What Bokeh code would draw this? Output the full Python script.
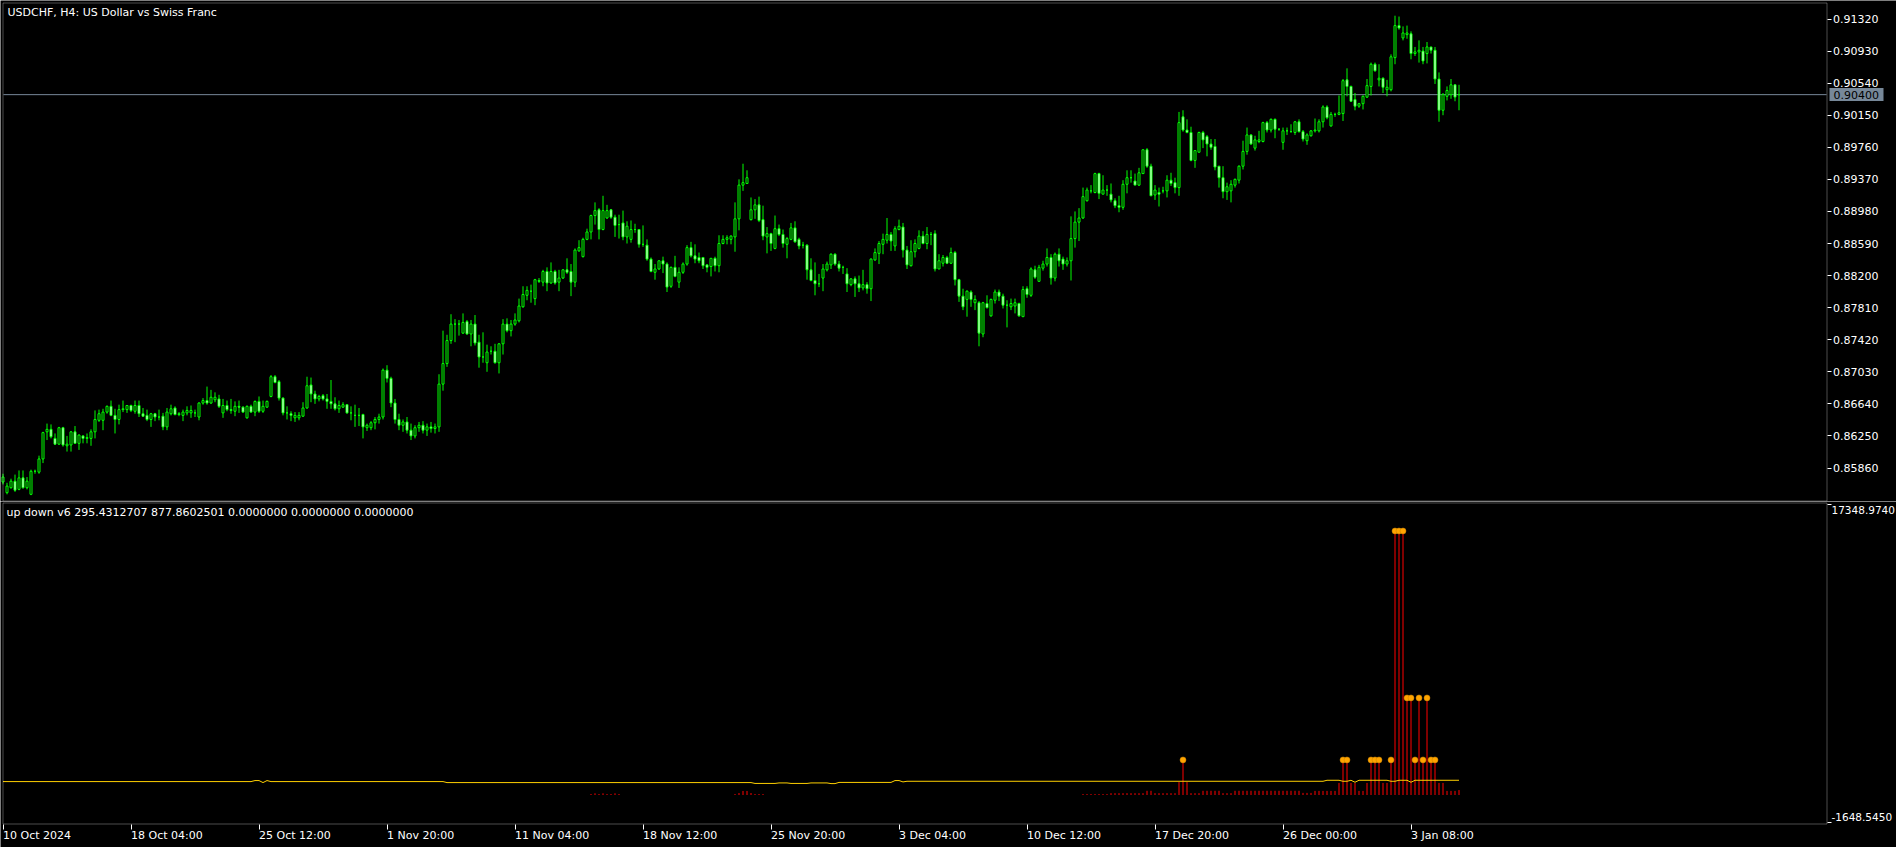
from bokeh.plotting import figure
from bokeh.models import (Range1d, FixedTicker, Label, PrintfTickFormatter, ColumnDataSource,
                          LinearAxis, BoxAnnotation)
from bokeh.layouts import column
from bokeh.embed import file_html
from bokeh.resources import INLINE
import numpy as np

# ---------------- data ----------------
open_ = [0.8569,0.8556,0.8562,0.8570,0.8560,0.8574,0.8562,0.8554,0.8582,0.8581,
0.8597,0.8630,0.8633,0.8622,0.8615,0.8635,0.8613,0.8614,0.8630,0.8616,
0.8625,0.8622,0.8622,0.8630,0.8644,0.8644,0.8654,0.8661,0.8650,0.8645,
0.8657,0.8657,0.8662,0.8655,0.8662,0.8652,0.8650,0.8645,0.8652,0.8648,
0.8649,0.8636,0.8652,0.8659,0.8651,0.8650,0.8653,0.8653,0.8653,0.8648,
0.8665,0.8668,0.8665,0.8669,0.8670,0.8653,0.8662,0.8657,0.8655,0.8661,
0.8660,0.8647,0.8661,0.8654,0.8667,0.8655,0.8660,0.8673,0.8697,0.8691,
0.8671,0.8653,0.8652,0.8647,0.8647,0.8649,0.8659,0.8687,0.8676,0.8670,
0.8674,0.8670,0.8667,0.8664,0.8658,0.8660,0.8663,0.8653,0.8650,0.8650,
0.8651,0.8635,0.8635,0.8641,0.8645,0.8648,0.8705,0.8695,0.8665,0.8645,
0.8638,0.8642,0.8632,0.8625,0.8635,0.8638,0.8632,0.8636,0.8634,0.8636,
0.8688,0.8713,0.8741,0.8761,0.8761,0.8750,0.8764,0.8749,0.8761,0.8739,
0.8721,0.8714,0.8728,0.8728,0.8714,0.8737,0.8761,0.8753,0.8761,0.8765,
0.8782,0.8796,0.8801,0.8792,0.8814,0.8812,0.8825,0.8811,0.8825,0.8812,
0.8817,0.8827,0.8825,0.8812,0.8850,0.8843,0.8864,0.8873,0.8893,0.8900,
0.8876,0.8890,0.8900,0.8891,0.8882,0.8884,0.8867,0.8864,0.8876,0.8876,
0.8858,0.8857,0.8840,0.8824,0.8828,0.8838,0.8834,0.8807,0.8830,0.8812,
0.8824,0.8834,0.8854,0.8844,0.8842,0.8842,0.8833,0.8831,0.8841,0.8832,
0.8859,0.8864,0.8864,0.8867,0.8889,0.8930,0.8932,0.8888,0.8900,0.8906,
0.8888,0.8867,0.8871,0.8853,0.8877,0.8870,0.8858,0.8864,0.8878,0.8864,
0.8857,0.8857,0.8827,0.8814,0.8810,0.8817,0.8827,0.8833,0.8846,0.8834,
0.8830,0.8822,0.8809,0.8816,0.8810,0.8805,0.8809,0.8804,0.8839,0.8847,
0.8858,0.8863,0.8870,0.8856,0.8876,0.8879,0.8851,0.8832,0.8849,0.8853,
0.8868,0.8859,0.8870,0.8871,0.8828,0.8835,0.8842,0.8835,0.8848,0.8815,
0.8795,0.8791,0.8800,0.8787,0.8787,0.8749,0.8786,0.8771,0.8790,0.8800,
0.8795,0.8784,0.8782,0.8783,0.8786,0.8770,0.8804,0.8796,0.8827,0.8813,
0.8829,0.8834,0.8842,0.8817,0.8846,0.8840,0.8834,0.8838,0.8865,0.8885,
0.8890,0.8911,0.8923,0.8921,0.8944,0.8919,0.8924,0.8919,0.8911,0.8905,
0.8903,0.8931,0.8939,0.8935,0.8930,0.8944,0.8973,0.8953,0.8918,0.8921,
0.8923,0.8923,0.8936,0.8933,0.8927,0.9013,0.8997,0.8994,0.8960,0.8970,
0.8994,0.8989,0.8980,0.8977,0.8953,0.8939,0.8922,0.8923,0.8930,0.8936,
0.8953,0.8971,0.8991,0.8975,0.8983,0.8983,0.9006,0.8997,0.9010,0.8998,
0.8982,0.8996,0.8995,0.8994,0.9007,0.8995,0.8984,0.8990,0.8996,0.8996,
0.9007,0.9025,0.9002,0.9016,0.9016,0.9017,0.9058,0.9050,0.9034,0.9026,
0.9029,0.9037,0.9050,0.9077,0.9058,0.9060,0.9046,0.9046,0.9085,0.9124,
0.9109,0.9113,0.9114,0.9090,0.9092,0.9093,0.9090,0.9098,0.9094,0.9059,
0.9021,0.9038,0.9040,0.9052,0.9040]
high = [0.8579,0.8568,0.8573,0.8578,0.8583,0.8583,0.8575,0.8584,0.8584,0.8601,
0.8630,0.8640,0.8639,0.8628,0.8636,0.8636,0.8625,0.8631,0.8637,0.8627,
0.8626,0.8628,0.8633,0.8656,0.8657,0.8658,0.8662,0.8668,0.8658,0.8663,
0.8668,0.8662,0.8663,0.8668,0.8668,0.8659,0.8657,0.8653,0.8653,0.8657,
0.8653,0.8659,0.8663,0.8661,0.8654,0.8657,0.8661,0.8662,0.8657,0.8666,
0.8671,0.8685,0.8681,0.8678,0.8675,0.8670,0.8668,0.8670,0.8667,0.8668,
0.8661,0.8662,0.8663,0.8668,0.8673,0.8668,0.8668,0.8699,0.8699,0.8693,
0.8672,0.8661,0.8655,0.8654,0.8654,0.8666,0.8697,0.8696,0.8680,0.8675,
0.8676,0.8676,0.8693,0.8672,0.8668,0.8666,0.8663,0.8661,0.8663,0.8659,
0.8652,0.8640,0.8643,0.8648,0.8652,0.8707,0.8711,0.8697,0.8670,0.8652,
0.8645,0.8648,0.8640,0.8638,0.8642,0.8643,0.8640,0.8642,0.8640,0.8700,
0.8753,0.8748,0.8773,0.8767,0.8766,0.8774,0.8766,0.8766,0.8772,0.8748,
0.8751,0.8736,0.8734,0.8737,0.8738,0.8767,0.8768,0.8766,0.8774,0.8792,
0.8807,0.8807,0.8809,0.8816,0.8817,0.8827,0.8830,0.8836,0.8827,0.8827,
0.8828,0.8841,0.8834,0.8853,0.8863,0.8866,0.8877,0.8894,0.8909,0.8902,
0.8917,0.8906,0.8901,0.8894,0.8894,0.8899,0.8886,0.8887,0.8883,0.8876,
0.8881,0.8864,0.8842,0.8834,0.8838,0.8843,0.8836,0.8831,0.8844,0.8830,
0.8836,0.8857,0.8861,0.8858,0.8848,0.8842,0.8834,0.8841,0.8843,0.8869,
0.8869,0.8869,0.8869,0.8909,0.8937,0.8956,0.8948,0.8915,0.8913,0.8916,
0.8905,0.8879,0.8872,0.8893,0.8882,0.8876,0.8867,0.8884,0.8886,0.8866,
0.8861,0.8858,0.8841,0.8836,0.8822,0.8834,0.8837,0.8847,0.8847,0.8838,
0.8832,0.8829,0.8817,0.8819,0.8820,0.8827,0.8812,0.8841,0.8853,0.8862,
0.8871,0.8890,0.8873,0.8880,0.8888,0.8884,0.8856,0.8863,0.8864,0.8875,
0.8874,0.8879,0.8873,0.8875,0.8846,0.8845,0.8844,0.8854,0.8850,0.8816,
0.8804,0.8802,0.8802,0.8796,0.8789,0.8788,0.8796,0.8792,0.8803,0.8803,
0.8798,0.8790,0.8792,0.8792,0.8787,0.8807,0.8807,0.8830,0.8832,0.8833,
0.8838,0.8853,0.8846,0.8848,0.8853,0.8843,0.8842,0.8892,0.8898,0.8902,
0.8927,0.8927,0.8930,0.8945,0.8945,0.8942,0.8930,0.8932,0.8914,0.8917,
0.8936,0.8948,0.8948,0.8944,0.8951,0.8973,0.8975,0.8956,0.8930,0.8927,
0.8928,0.8942,0.8945,0.8939,0.9019,0.9021,0.9010,0.9001,0.8972,0.8995,
0.8996,0.8991,0.8986,0.8986,0.8953,0.8953,0.8933,0.8936,0.8938,0.8954,
0.8984,0.9000,0.8992,0.8990,0.8996,0.9007,0.9008,0.9011,0.9011,0.8999,
0.9000,0.9000,0.9004,0.9008,0.9010,0.8997,0.8993,0.8997,0.9011,0.9010,
0.9027,0.9027,0.9019,0.9018,0.9039,0.9059,0.9072,0.9051,0.9042,0.9030,
0.9039,0.9059,0.9079,0.9079,0.9077,0.9061,0.9058,0.9089,0.9136,0.9135,
0.9123,0.9124,0.9117,0.9098,0.9106,0.9098,0.9104,0.9098,0.9098,0.9067,
0.9042,0.9050,0.9059,0.9052,0.9052]
low = [0.8566,0.8554,0.8561,0.8557,0.8559,0.8561,0.8560,0.8553,0.8579,0.8579,
0.8592,0.8620,0.8622,0.8614,0.8614,0.8612,0.8606,0.8606,0.8616,0.8608,
0.8616,0.8616,0.8613,0.8622,0.8642,0.8632,0.8652,0.8649,0.8628,0.8639,
0.8654,0.8653,0.8654,0.8652,0.8648,0.8648,0.8643,0.8636,0.8643,0.8644,
0.8632,0.8632,0.8650,0.8650,0.8649,0.8643,0.8650,0.8647,0.8648,0.8644,
0.8663,0.8663,0.8664,0.8666,0.8659,0.8647,0.8655,0.8652,0.8649,0.8653,
0.8653,0.8646,0.8653,0.8649,0.8653,0.8653,0.8659,0.8672,0.8689,0.8668,
0.8650,0.8645,0.8643,0.8642,0.8644,0.8648,0.8658,0.8666,0.8664,0.8667,
0.8668,0.8658,0.8658,0.8656,0.8653,0.8659,0.8652,0.8644,0.8636,0.8637,
0.8622,0.8631,0.8632,0.8633,0.8640,0.8645,0.8690,0.8660,0.8640,0.8632,
0.8630,0.8628,0.8620,0.8622,0.8630,0.8628,0.8625,0.8629,0.8628,0.8630,
0.8680,0.8709,0.8737,0.8739,0.8747,0.8749,0.8748,0.8734,0.8735,0.8708,
0.8714,0.8703,0.8724,0.8713,0.8701,0.8724,0.8751,0.8746,0.8759,0.8763,
0.8781,0.8790,0.8787,0.8784,0.8811,0.8807,0.8801,0.8810,0.8809,0.8801,
0.8816,0.8822,0.8795,0.8806,0.8849,0.8842,0.8863,0.8864,0.8882,0.8864,
0.8875,0.8889,0.8889,0.8867,0.8865,0.8863,0.8859,0.8860,0.8872,0.8854,
0.8855,0.8838,0.8824,0.8815,0.8827,0.8823,0.8800,0.8805,0.8818,0.8805,
0.8822,0.8832,0.8842,0.8835,0.8835,0.8828,0.8824,0.8819,0.8825,0.8824,
0.8858,0.8858,0.8858,0.8849,0.8875,0.8923,0.8932,0.8887,0.8889,0.8885,
0.8863,0.8847,0.8850,0.8852,0.8868,0.8854,0.8841,0.8863,0.8860,0.8852,
0.8853,0.8815,0.8813,0.8796,0.8806,0.8801,0.8825,0.8828,0.8832,0.8825,
0.8822,0.8800,0.8807,0.8794,0.8800,0.8802,0.8798,0.8789,0.8838,0.8834,
0.8846,0.8859,0.8850,0.8850,0.8875,0.8842,0.8828,0.8831,0.8842,0.8852,
0.8858,0.8852,0.8857,0.8825,0.8828,0.8831,0.8834,0.8834,0.8808,0.8788,
0.8778,0.8770,0.8782,0.8778,0.8734,0.8745,0.8780,0.8770,0.8786,0.8789,
0.8780,0.8757,0.8778,0.8774,0.8770,0.8770,0.8793,0.8794,0.8816,0.8813,
0.8826,0.8831,0.8809,0.8813,0.8831,0.8827,0.8831,0.8814,0.8854,0.8862,
0.8889,0.8910,0.8920,0.8920,0.8913,0.8919,0.8917,0.8909,0.8902,0.8897,
0.8900,0.8920,0.8933,0.8930,0.8929,0.8944,0.8951,0.8917,0.8912,0.8904,
0.8920,0.8915,0.8929,0.8920,0.8917,0.8995,0.8993,0.8959,0.8951,0.8970,
0.8975,0.8965,0.8973,0.8948,0.8927,0.8914,0.8912,0.8909,0.8927,0.8932,
0.8949,0.8967,0.8979,0.8972,0.8981,0.8982,0.8994,0.8994,0.8987,0.8996,
0.8973,0.8991,0.8994,0.8991,0.8994,0.8983,0.8979,0.8989,0.8994,0.8994,
0.9000,0.9010,0.9001,0.9013,0.9015,0.9008,0.9038,0.9031,0.9021,0.9024,
0.9022,0.9036,0.9039,0.9068,0.9050,0.9042,0.9038,0.9044,0.9077,0.9119,
0.9106,0.9108,0.9083,0.9087,0.9079,0.9077,0.9078,0.9090,0.9053,0.9007,
0.9015,0.9033,0.9035,0.9032,0.9021]
close = [0.8575,0.8564,0.8570,0.8559,0.8574,0.8562,0.8570,0.8582,0.8582,0.8597,
0.8629,0.8633,0.8624,0.8615,0.8635,0.8614,0.8615,0.8630,0.8616,0.8626,
0.8622,0.8623,0.8630,0.8645,0.8652,0.8654,0.8661,0.8650,0.8645,0.8657,
0.8658,0.8662,0.8656,0.8662,0.8652,0.8649,0.8645,0.8652,0.8648,0.8648,
0.8636,0.8654,0.8658,0.8651,0.8652,0.8654,0.8656,0.8656,0.8653,0.8665,
0.8668,0.8665,0.8672,0.8672,0.8661,0.8662,0.8657,0.8656,0.8661,0.8660,
0.8654,0.8661,0.8654,0.8667,0.8655,0.8661,0.8667,0.8697,0.8690,0.8671,
0.8653,0.8653,0.8650,0.8650,0.8650,0.8659,0.8686,0.8676,0.8670,0.8673,
0.8670,0.8667,0.8664,0.8658,0.8662,0.8663,0.8653,0.8653,0.8650,0.8650,
0.8636,0.8638,0.8641,0.8645,0.8648,0.8705,0.8695,0.8665,0.8645,0.8638,
0.8642,0.8632,0.8625,0.8635,0.8638,0.8632,0.8636,0.8634,0.8636,0.8688,
0.8713,0.8741,0.8761,0.8761,0.8761,0.8763,0.8749,0.8761,0.8738,0.8721,
0.8721,0.8727,0.8728,0.8714,0.8737,0.8761,0.8753,0.8761,0.8766,0.8783,
0.8797,0.8802,0.8801,0.8815,0.8813,0.8825,0.8811,0.8825,0.8811,0.8817,
0.8827,0.8824,0.8812,0.8851,0.8854,0.8864,0.8873,0.8893,0.8899,0.8876,
0.8899,0.8899,0.8891,0.8881,0.8882,0.8867,0.8880,0.8876,0.8876,0.8858,
0.8858,0.8840,0.8825,0.8828,0.8838,0.8834,0.8806,0.8830,0.8819,0.8824,
0.8834,0.8854,0.8844,0.8840,0.8838,0.8832,0.8830,0.8841,0.8832,0.8859,
0.8864,0.8866,0.8868,0.8889,0.8930,0.8933,0.8939,0.8900,0.8906,0.8887,
0.8868,0.8871,0.8859,0.8877,0.8870,0.8859,0.8865,0.8878,0.8861,0.8856,
0.8857,0.8827,0.8814,0.8810,0.8810,0.8828,0.8834,0.8846,0.8834,0.8829,
0.8830,0.8810,0.8816,0.8810,0.8805,0.8809,0.8804,0.8840,0.8848,0.8859,
0.8864,0.8870,0.8862,0.8877,0.8880,0.8851,0.8833,0.8849,0.8859,0.8868,
0.8859,0.8870,0.8870,0.8828,0.8838,0.8842,0.8835,0.8848,0.8815,0.8795,
0.8782,0.8801,0.8791,0.8791,0.8750,0.8787,0.8781,0.8791,0.8800,0.8795,
0.8784,0.8784,0.8786,0.8787,0.8771,0.8803,0.8797,0.8828,0.8818,0.8830,
0.8834,0.8842,0.8817,0.8846,0.8838,0.8834,0.8838,0.8865,0.8885,0.8890,
0.8916,0.8924,0.8923,0.8944,0.8920,0.8924,0.8924,0.8912,0.8905,0.8903,
0.8931,0.8939,0.8939,0.8930,0.8945,0.8973,0.8953,0.8917,0.8924,0.8919,
0.8923,0.8936,0.8932,0.8927,0.9006,0.8997,0.8994,0.8960,0.8972,0.8994,
0.8985,0.8980,0.8976,0.8952,0.8939,0.8922,0.8928,0.8931,0.8937,0.8953,
0.8971,0.8991,0.8980,0.8985,0.8985,0.9006,0.8997,0.9010,0.8998,0.8998,
0.8996,0.8996,0.8995,0.9007,0.8995,0.8986,0.8991,0.8996,0.8997,0.9007,
0.9025,0.9012,0.9016,0.9016,0.9018,0.9057,0.9050,0.9032,0.9026,0.9029,
0.9038,0.9051,0.9077,0.9069,0.9060,0.9049,0.9049,0.9086,0.9124,0.9121,
0.9115,0.9115,0.9090,0.9092,0.9094,0.9081,0.9098,0.9094,0.9059,0.9021,
0.9040,0.9045,0.9052,0.9037,0.9040]

price_ticks = [0.91320, 0.90930, 0.90540, 0.90150, 0.89760, 0.89370, 0.88980, 0.88590,
               0.88200, 0.87810, 0.87420, 0.87030, 0.86640, 0.86250, 0.85860]
time_tick_bars = [0, 32, 64, 96, 128, 160, 192, 224, 256, 288, 320, 352]
time_tick_labels = ["10 Oct 2024", "18 Oct 04:00", "25 Oct 12:00", "1 Nov 20:00", "11 Nov 04:00",
                    "18 Nov 12:00", "25 Nov 20:00", "3 Dec 04:00", "10 Dec 12:00", "17 Dec 20:00",
                    "26 Dec 00:00", "3 Jan 08:00"]
current_price = 0.90400
symbol_title = "USDCHF, H4:  US Dollar vs Swiss Franc"
indicator_title = "up down v6 295.4312707 877.8602501 0.0000000 0.0000000 0.0000000"
ind_max = 17348.9740
ind_min = -1648.5450

# red histogram: bar indices and values
hist_bars = [147, 148, 149, 150, 151, 152, 153, 154,
             183, 184, 185, 186, 187, 188, 189, 190] + list(range(270, 365))
hist_vals = [60, 100, 60, 100, 60, 60, 100, 60,
             60, 120, 240, 240, 120, 60, 60, 60,
             # 270 - 324
             60, 60, 60, 60, 60, 60, 60,
             110, 110, 110, 110, 110, 110, 110, 110, 110,
             250, 250,
             110, 110, 110, 110, 110, 110,
             770, 2091, 770,
             110, 110, 110,
             250, 250, 250, 250, 250,
             110, 110, 110,
             250, 250, 250, 250, 250, 250, 250, 250, 250, 250, 250, 250, 250, 250, 250, 250, 250,
             # 325 - 364
             125, 125, 125, 244, 244, 244, 244, 244, 244, 720,
             2091, 2091, 720, 720, 244, 244, 720, 2091, 2091, 2091,
             720, 720, 2091, 15740, 15740, 15740, 5787, 5787, 2091, 5787,
             2091, 5787, 2091, 2091, 720, 720, 244, 244, 244, 295]
# orange dots
dot_bars = [295, 335, 336, 342, 343, 344, 347, 348, 349, 350, 351, 352, 353, 354, 355, 356, 357, 358]
dot_vals = [2091, 2091, 2091, 2091, 2091, 2091, 2091, 15740, 15740, 15740, 5787, 5787, 2091, 5787,
            2091, 5787, 2091, 2091]
# yellow line, run-length: counts of consecutive bars and their level
yellow_counts = [63, 2, 1, 1, 44, 77, 6, 3, 5, 5, 2, 14, 2, 1, 105, 4, 2, 1, 1, 8, 2, 3, 1, 12]
yellow_levels = [800, 860, 740, 860, 800, 740, 690, 720, 690, 720, 680, 750, 860, 780, 818,
                 878, 818, 878, 760, 878, 818, 878, 760, 878]

# ---------------- layout constants (page pixels) ----------------
FONT = "DejaVu Sans"
FS = "11px"
W = 1896
MAIN_H = 501
IND_H = 346
PX_PER_BAR = 4.0
X0 = -2.5 / PX_PER_BAR           # bar 0 centred at page x 2.5
X1 = X0 + W / PX_PER_BAR
AXIS_X = 1826.5                  # right scale line
BORDER_L = 2.5

def x_at(px):
    return X0 + px / PX_PER_BAR

# main panel price scale
TICK_HI_Y, TICK_LO_Y = 18.5, 467.5
ppu = (TICK_LO_Y - TICK_HI_Y) / (price_ticks[0] - price_ticks[-1])

def price_at(py):
    return price_ticks[0] - (py - TICK_HI_Y) / ppu

# indicator scale (page y measured from top of page)
Y_MAX_PX, Y_ZERO_PX = 503.5, 794.5
ipu = (Y_ZERO_PX - Y_MAX_PX) / ind_max

def ind_at(py):
    return ind_max - (py - Y_MAX_PX) / ipu

BG = "black"
FG = "white"
LIME = "#00FF00"
SLATE = "#778899"

def style_axis(a, tick_out):
    a.axis_line_color = None
    a.major_tick_line_color = FG
    a.major_tick_out = tick_out
    a.major_tick_in = 0
    a.minor_tick_line_color = None
    a.major_label_text_color = FG
    a.major_label_text_font = FONT
    a.major_label_text_font_size = FS

# ---------------- main chart ----------------
n = len(close)
bars = list(range(n))
top = [max(o, c) for o, c in zip(open_, close)]
bot = [min(o, c) for o, c in zip(open_, close)]
fill = ["white" if c < o else "black" for o, c in zip(open_, close)]
src = ColumnDataSource(dict(x=bars, o=open_, h=high, l=low, c=close, top=top, bot=bot, fill=fill))

p1 = figure(width=W, height=MAIN_H, min_border=0, x_range=Range1d(X0, X1),
            y_range=Range1d(price_at(MAIN_H), price_at(0)), x_axis_location=None,
            y_axis_location=None, output_backend="svg", toolbar_location=None,
            background_fill_color=BG, border_fill_color=BG, outline_line_color=None)
p1.grid.visible = False
pax = LinearAxis(fixed_location=x_at(AXIS_X), ticker=FixedTicker(ticks=price_ticks),
                 formatter=PrintfTickFormatter(format="%.5f"))
style_axis(pax, 4)
pax.major_label_standoff = 2
p1.add_layout(pax, "right")

p1.add_layout(BoxAnnotation(left=x_at(BORDER_L), right=x_at(AXIS_X), top=price_at(2.5),
                            bottom=price_at(500.5), fill_color=None, line_color=FG, line_width=1,
                            level="overlay"))
# bid line across the chart area only
p1.segment(x0=[x_at(3)], y0=[current_price], x1=[x_at(1826)], y1=[current_price],
           line_color=SLATE, line_width=1)
p1.segment(x0="x", y0="l", x1="x", y1="h", source=src, line_color=LIME, line_width=1)
p1.vbar(x="x", width=0.5, top="top", bottom="bot", source=src, fill_color="fill",
        line_color=LIME, line_width=1)

p1.add_layout(Label(x=x_at(7), y=price_at(11.5), text=symbol_title, text_align="left",
                    text_baseline="middle", text_color=FG, text_font=FONT, text_font_size=FS))
# price tag on the scale
p1.add_layout(BoxAnnotation(left=x_at(1829), right=x_at(1883), top=price_at(87.5),
                            bottom=price_at(100.5), fill_color=SLATE, fill_alpha=1.0,
                            line_color=None, level="overlay"))
p1.add_layout(Label(x=x_at(1833), y=current_price, text="%.5f" % current_price, text_align="left",
                    text_baseline="middle", text_color="black", text_font=FONT, text_font_size=FS,
                    level="overlay"))

# ---------------- indicator ----------------
yellow = np.repeat(yellow_levels, yellow_counts)
p2 = figure(width=W, height=IND_H, min_border=0, x_range=p1.x_range,
            y_range=Range1d(ind_at(MAIN_H + IND_H), ind_at(MAIN_H)), x_axis_location=None,
            y_axis_location=None, output_backend="svg", toolbar_location=None,
            background_fill_color=BG, border_fill_color=BG, outline_line_color=None)
p2.grid.visible = False
iax = LinearAxis(fixed_location=x_at(AXIS_X), ticker=FixedTicker(ticks=[ind_max, ind_min]),
                 major_label_overrides={ind_max: "", ind_min: ""})
style_axis(iax, 4)
p2.add_layout(iax, "right")
tax = LinearAxis(fixed_location=ind_at(823.5), ticker=FixedTicker(ticks=time_tick_bars),
                 major_label_overrides={b: "" for b in time_tick_bars})
style_axis(tax, 5)
p2.add_layout(tax, "below")

p2.add_layout(BoxAnnotation(left=x_at(BORDER_L), right=x_at(AXIS_X), top=ind_at(502.5),
                            bottom=ind_at(823.5), fill_color=None, line_color=FG, line_width=1,
                            level="overlay"))
p2.segment(x0=hist_bars, y0=[0] * len(hist_bars), x1=hist_bars, y1=hist_vals,
           line_color="red", line_width=1)
p2.line(bars, yellow, line_color="#FFD000", line_width=1)
p2.scatter(dot_bars, dot_vals, size=6, fill_color="orange", line_color="#C88000", line_width=0.5)

p2.add_layout(Label(x=x_at(6), y=ind_at(511.5), text=indicator_title, text_align="left",
                    text_baseline="middle", text_color=FG, text_font=FONT, text_font_size=FS))
p2.add_layout(Label(x=x_at(1831), y=ind_at(509.5), text="%.4f" % ind_max, text_align="left",
                    text_baseline="middle", text_color=FG, text_font=FONT, text_font_size="10.5px"))
p2.add_layout(Label(x=x_at(1831), y=ind_at(816.5), text="%.4f" % ind_min, text_align="left",
                    text_baseline="middle", text_color=FG, text_font=FONT, text_font_size="10.5px"))
for b, t in zip(time_tick_bars, time_tick_labels):
    p2.add_layout(Label(x=b, y=ind_at(834.5), text=t, text_align="left", text_baseline="middle",
                        text_color=FG, text_font=FONT, text_font_size=FS))

layout = column(p1, p2, spacing=0)
open("out.html", "w").write(file_html(layout, INLINE))
